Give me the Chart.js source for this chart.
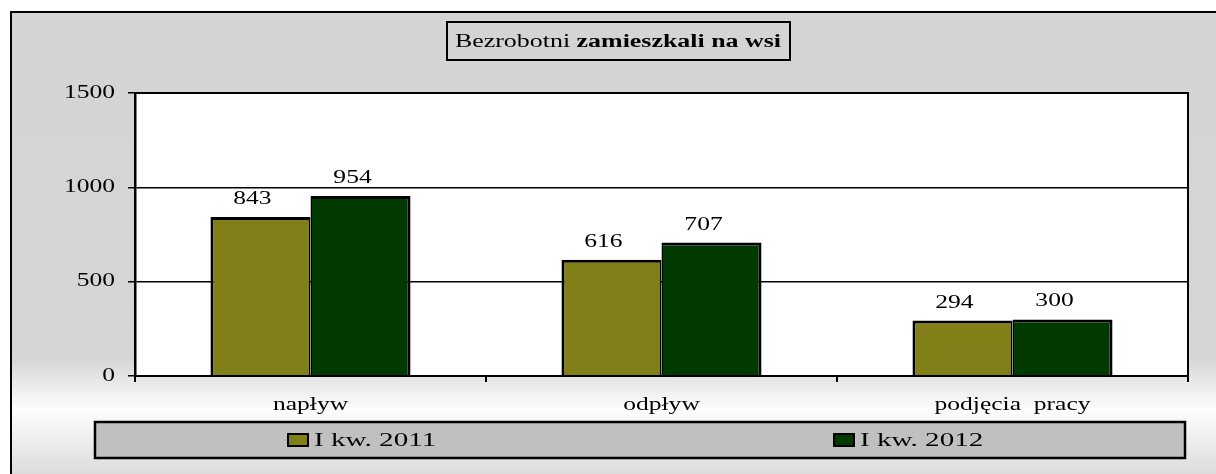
<!DOCTYPE html>
<html>
<head>
<meta charset="utf-8">
<script src="https://cdn.jsdelivr.net/npm/chart.js@4"></script>
<style>
  body { margin: 0; background: #fff; }
  canvas { display: block; }
</style>
</head>
<body>
<canvas id="myChart" width="1216" height="474"></canvas>
<script>
const canvas = document.getElementById("myChart");
const ctx = canvas.getContext("2d");

// data
const categories = ["napływ", "odpływ", "podjęcia  pracy"];
const seriesNames = ["I kw. 2011", "I kw. 2012"];
const values2011 = [843, 616, 294];
const values2012 = [954, 707, 300];
const yTicks = [0, 500, 1000, 1500];

const colors = ["#807f18", "#013a01"];
const FONT = "'Liberation Serif', 'Times New Roman', serif";
const STRETCH = 1.42; // text in the original is drawn wide

// draw text squeezed out horizontally, align = left/center/right
function wideText(c, text, x, y, align, stretch) {
    const s = stretch || STRETCH;
    const w = c.measureText(text).width * s;
    let left = x;
    if (align === "center") left = x - w / 2;
    if (align === "right") left = x - w;
    c.save();
    c.textAlign = "left";
    c.translate(left, y);
    c.scale(s, 1);
    c.fillText(text, 0, 0);
    c.restore();
    return w;
}

// gray panel with a light band near the bottom, black edge left and top
const background = {
    id: "background",
    beforeDraw(chart) {
        const c = chart.ctx;
        c.save();
        c.fillStyle = "#ffffff";
        c.fillRect(0, 0, chart.width, chart.height);
        const g = c.createLinearGradient(0, 12, 0, 474);
        g.addColorStop(0, "#d4d4d4");
        g.addColorStop(0.75, "#d6d6d6");
        g.addColorStop(0.86, "#fdfdfd");
        g.addColorStop(1, "#dcdcdc");
        c.fillStyle = g;
        c.fillRect(11, 13, chart.width - 11, chart.height - 13);
        c.strokeStyle = "#000";
        c.lineWidth = 2;
        c.beginPath();
        c.moveTo(11, chart.height);
        c.lineTo(11, 12);
        c.lineTo(chart.width, 12);
        c.stroke();
        const a = chart.chartArea;
        c.fillStyle = "#ffffff";
        c.fillRect(a.left, a.top, a.right - a.left, a.bottom - a.top);
        c.restore();
    },
    afterDraw(chart) {
        const c = chart.ctx;
        const a = chart.chartArea;
        c.save();
        c.strokeStyle = "#000";
        c.lineWidth = 2;
        c.strokeRect(a.left, a.top, a.right - a.left, a.bottom - a.top);

        c.fillStyle = "#000";
        c.textBaseline = "middle";

        // axis labels, from the library's scales
        const xs = chart.scales.x;
        const ys = chart.scales.y;
        c.font = "18px " + FONT;
        yTicks.forEach(v => {
            wideText(c, String(v), a.left - 20, ys.getPixelForValue(v), "right");
        });
        categories.forEach((cat, i) => {
            wideText(c, cat, xs.getPixelForValue(i), a.bottom + 29, "center");
        });

        // title box
        c.strokeRect(447, 22, 343, 38);
        const part1 = "Bezrobotni ";
        const part2 = "zamieszkali na wsi";
        const ts = 1.44;
        c.font = "18px " + FONT;
        const w1 = c.measureText(part1).width * ts;
        c.font = "bold 18px " + FONT;
        const w2 = c.measureText(part2).width * ts;
        const x0 = 618 - (w1 + w2) / 2;
        c.font = "18px " + FONT;
        wideText(c, part1, x0, 42, "left", ts);
        c.font = "bold 18px " + FONT;
        wideText(c, part2, x0 + w1, 42, "left", ts);

        // legend box
        c.fillStyle = "#c0c0c0";
        c.fillRect(95, 422, 1090, 36);
        c.lineWidth = 2.5;
        c.strokeRect(95, 422, 1090, 36);
        const legendX = [288, 834];
        c.font = "19px " + FONT;
        chart.data.datasets.forEach((ds, i) => {
            c.fillStyle = ds.backgroundColor;
            c.fillRect(legendX[i], 434, 20, 12);
            c.lineWidth = 2;
            c.strokeRect(legendX[i], 434, 20, 12);
            c.fillStyle = "#000";
            wideText(c, ds.label, legendX[i] + 26, 441, "left", 1.53);
        });
        c.restore();
    }
};

// values above the bars
const barValues = {
    id: "barValues",
    afterDatasetsDraw(chart) {
        const c = chart.ctx;
        c.save();
        c.font = "18px " + FONT;
        c.fillStyle = "#000";
        c.textBaseline = "alphabetic";
        chart.data.datasets.forEach((ds, i) => {
            chart.getDatasetMeta(i).data.forEach((bar, j) => {
                wideText(c, String(ds.data[j]), bar.x - 8, bar.y - 13, "center");
            });
        });
        c.restore();
    }
};

new Chart(ctx, {
    type: "bar",
    data: {
        labels: categories,
        datasets: [
            {
                label: seriesNames[0],
                data: values2011,
                backgroundColor: colors[0],
                borderColor: "#000",
                borderWidth: { left: 3, top: 3, right: 1.5, bottom: 0 },
                borderSkipped: false,
                categoryPercentage: 0.57,
                barPercentage: 1
            },
            {
                label: seriesNames[1],
                data: values2012,
                backgroundColor: colors[1],
                borderColor: "#000",
                borderWidth: { left: 1.5, top: 3, right: 3, bottom: 0 },
                borderSkipped: false,
                categoryPercentage: 0.57,
                barPercentage: 1
            }
        ]
    },
    plugins: [background, barValues],
    options: {
        responsive: false,
        animation: false,
        layout: { padding: { left: 0, right: 28, top: 93, bottom: 0 } },
        plugins: {
            legend: { display: false },
            title: { display: false },
            tooltip: { enabled: false }
        },
        scales: {
            x: {
                grid: {
                    display: true,
                    drawOnChartArea: false,
                    color: "#000",
                    lineWidth: 2,
                    tickLength: 6,
                    offset: true
                },
                border: { color: "#000", width: 2 },
                ticks: { display: false },
                afterFit(scale) { scale.height = 98; }
            },
            y: {
                min: 0,
                max: 1500,
                afterBuildTicks(scale) {
                    scale.ticks = yTicks.map(v => ({ value: v }));
                },
                grid: {
                    color: "#000",
                    lineWidth: 1.5,
                    tickLength: 7
                },
                border: { color: "#000", width: 2.5 },
                ticks: { display: false },
                afterFit(scale) { scale.width = 135; }
            }
        }
    }
});
</script>
</body>
</html>
